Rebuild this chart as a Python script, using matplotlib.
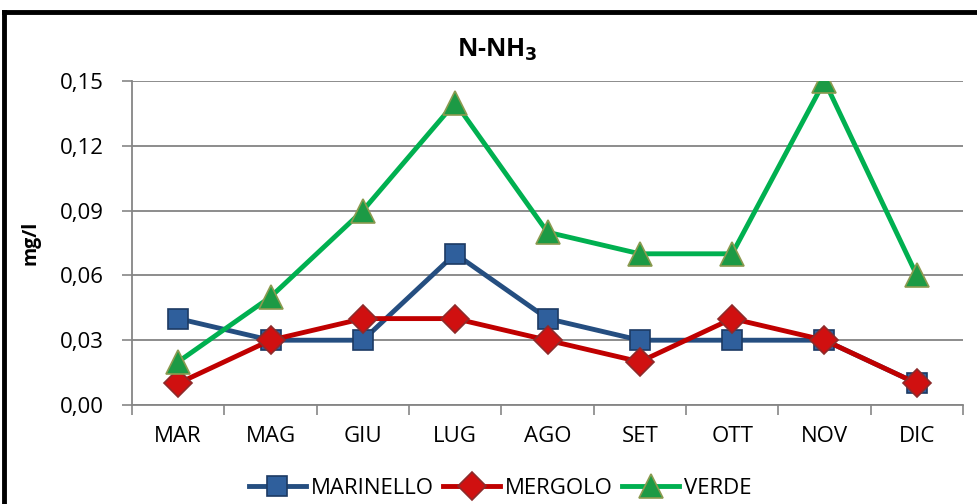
import matplotlib
matplotlib.use("Agg")
import matplotlib.pyplot as plt
from matplotlib.lines import Line2D
from matplotlib.ticker import FuncFormatter, FixedLocator

plt.rcParams["font.family"] = ["Open Sans", "DejaVu Sans"]

months = ["MAR", "MAG", "GIU", "LUG", "AGO", "SET", "OTT", "NOV", "DIC"]
marinello = [0.04, 0.03, 0.03, 0.07, 0.04, 0.03, 0.03, 0.03, 0.01]
mergolo = [0.01, 0.03, 0.04, 0.04, 0.03, 0.02, 0.04, 0.03, 0.01]
verde = [0.02, 0.05, 0.09, 0.14, 0.08, 0.07, 0.07, 0.15, 0.06]
y_ticks = [0.0, 0.03, 0.06, 0.09, 0.12, 0.15]

fig = plt.figure(figsize=(9.77, 5.04), dpi=100)
ax = fig.add_axes([132 / 977, 1 - 405 / 504, (963 - 132) / 977, (405 - 81) / 504])

x = list(range(len(months)))
ax.plot(x, marinello, color="#254E80", lw=3.5, marker="s", ms=15,
        mfc="#2F5F9C", mec="#1C3A63", mew=1.2, label="MARINELLO", zorder=3)
ax.plot(x, mergolo, color="#C00000", lw=3.5, marker="D", ms=14,
        mfc="#D01010", mec="#8E2A2A", mew=1.2, label="MERGOLO", zorder=4)
ax.plot(x, verde, color="#00B050", lw=3.5, marker="^", ms=17,
        mfc="#1C9A45", mec="#8C9A50", mew=1.2, label="VERDE", zorder=5)

ax.set_xlim(-0.5, len(months) - 0.5)
ax.set_ylim(0, 0.15)
ax.set_yticks(y_ticks)
ax.yaxis.set_major_formatter(FuncFormatter(lambda v, p: f"{v:.2f}".replace(".", ",")))
ax.set_xticks(x)
ax.set_xticklabels(months)
ax.xaxis.set_minor_locator(FixedLocator([i - 0.5 for i in range(len(months) + 1)]))
ax.tick_params(axis="x", which="major", length=0, pad=15, labelsize=16)
ax.tick_params(axis="x", which="minor", length=7, color="#868686", width=1.2)
ax.tick_params(axis="y", length=7, color="#868686", width=1.2, labelsize=16, pad=13)

ax.grid(axis="y", color="#8C8C8C", lw=1.4)
ax.set_axisbelow(True)
for s in ["top", "right"]:
    ax.spines[s].set_visible(False)
for s in ["left", "bottom"]:
    ax.spines[s].set_color("#868686")
    ax.spines[s].set_linewidth(1.3)

ax.set_ylabel("mg/l", fontsize=14, fontweight="bold")
ax.yaxis.set_label_coords((40 - 132) / 831, 0.5)
fig.text(497 / 977, 1 - 50 / 504, "N-NH$_\\mathbf{3}$", fontsize=18, fontweight="bold",
         ha="center", va="center")

ax.legend(loc="center", bbox_to_anchor=((500 - 132) / 831, (405 - 488) / 324), ncol=3,
          frameon=False, fontsize=16, handlelength=2.6, columnspacing=0.4,
          handletextpad=0.2, borderpad=0)

# outer chart frame (top and left visible)
fig.add_artist(Line2D([4 / 977, 4 / 977], [0, 1 - 12 / 504], color="black", lw=3.5,
                      transform=fig.transFigure))
fig.add_artist(Line2D([4 / 977, 1], [1 - 12 / 504, 1 - 12 / 504], color="black", lw=3.5,
                      transform=fig.transFigure))

fig.savefig("out.png", dpi=100)
